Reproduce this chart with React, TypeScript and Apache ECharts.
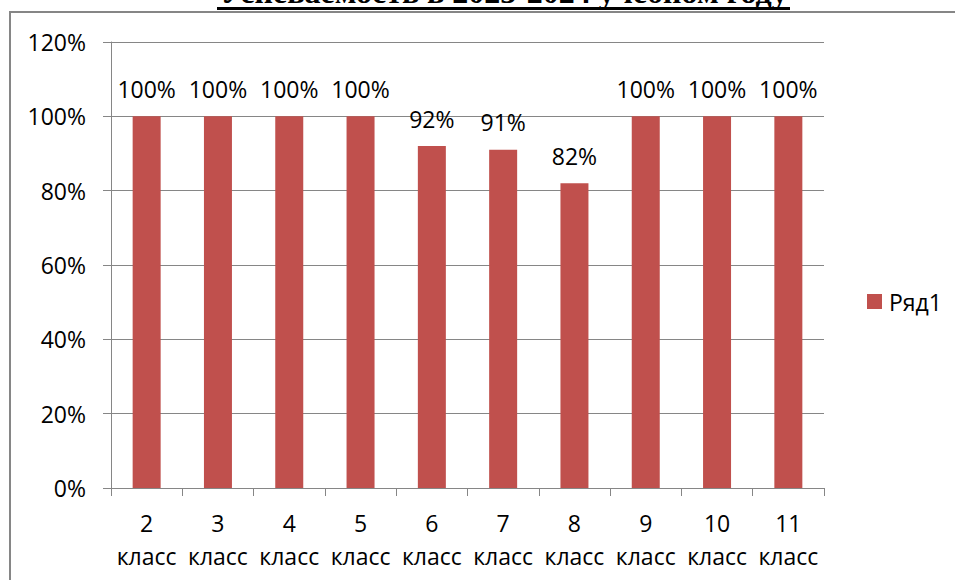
import React, { useEffect, useRef } from 'react';
import * as echarts from 'echarts';

const TITLE = 'Успеваемость в 2023-2024 учебном году';
const CATEGORIES = ['2\nкласс', '3\nкласс', '4\nкласс', '5\nкласс', '6\nкласс', '7\nкласс', '8\nкласс', '9\nкласс', '10\nкласс', '11\nкласс'];
const SERIES_NAME = 'Ряд1';
const VALUES = [100, 100, 100, 100, 92, 91, 82, 100, 100, 100];
const Y_MIN = 0;
const Y_MAX = 120;
const Y_STEP = 20;

const FONT = '"Open Sans", "Noto Sans", sans-serif';
const FS = 23;
const GRAY = '#868686';
const BAR = '#C0504D';

export default function App() {
  const ref = useRef<HTMLDivElement>(null);
  useEffect(() => {
    if (!ref.current) return;
    const chart = echarts.init(ref.current, undefined, { renderer: 'svg' });
    chart.setOption({
      animation: false,
      backgroundColor: '#ffffff',
      grid: { left: 111, right: 131, top: 42, bottom: 92 },
      legend: {
        data: [SERIES_NAME],
        orient: 'vertical',
        left: 867,
        top: 290,
        padding: 0,
        itemWidth: 15,
        itemHeight: 15,
        itemGap: 7,
        icon: 'rect',
        textStyle: { fontFamily: FONT, fontSize: FS, color: '#000', padding: [0, 0, 0, 2] },
      },
      xAxis: {
        type: 'category',
        data: CATEGORIES,
        axisLine: { lineStyle: { color: GRAY, width: 1 } },
        axisTick: { show: true, length: 8, lineStyle: { color: GRAY } },
        axisLabel: { interval: 0, margin: 18, color: '#000', fontFamily: FONT, fontSize: FS, lineHeight: 33 },
      },
      yAxis: {
        type: 'value',
        min: Y_MIN,
        max: Y_MAX,
        interval: Y_STEP,
        axisLine: { show: true, lineStyle: { color: GRAY, width: 1 } },
        axisTick: { show: true, length: 8, lineStyle: { color: GRAY } },
        splitLine: { show: true, lineStyle: { color: GRAY, width: 1 } },
        axisLabel: { formatter: '{value}%', margin: 25, color: '#000', fontFamily: FONT, fontSize: FS },
      },
      series: [
        {
          type: 'bar',
          name: SERIES_NAME,
          data: VALUES,
          barWidth: 28,
          itemStyle: { color: BAR },
          label: {
            show: true,
            position: 'top',
            distance: 16,
            formatter: '{c}%',
            color: '#000',
            fontFamily: FONT,
            fontSize: FS,
          },
        },
      ],
      graphic: [
        {
          type: 'rect',
          z: -10,
          shape: { x: 10, y: 12, width: 1000, height: 1000 },
          style: { fill: 'none', stroke: GRAY, lineWidth: 2 },
        },
        {
          type: 'text',
          x: 504,
          y: 8,
          style: {
            text: TITLE,
            font: 'bold 32px "Liberation Serif", serif',
            align: 'center',
            verticalAlign: 'bottom',
            fill: '#000',
          },
        },
        {
          type: 'rect',
          shape: { x: 217, y: 7, width: 573, height: 3 },
          style: { fill: '#000' },
        },
      ],
    });
    return () => chart.dispose();
  }, []);
  return <div ref={ref} style={{ position: 'fixed', left: 0, top: 0, width: 955, height: 580 }} />;
}
